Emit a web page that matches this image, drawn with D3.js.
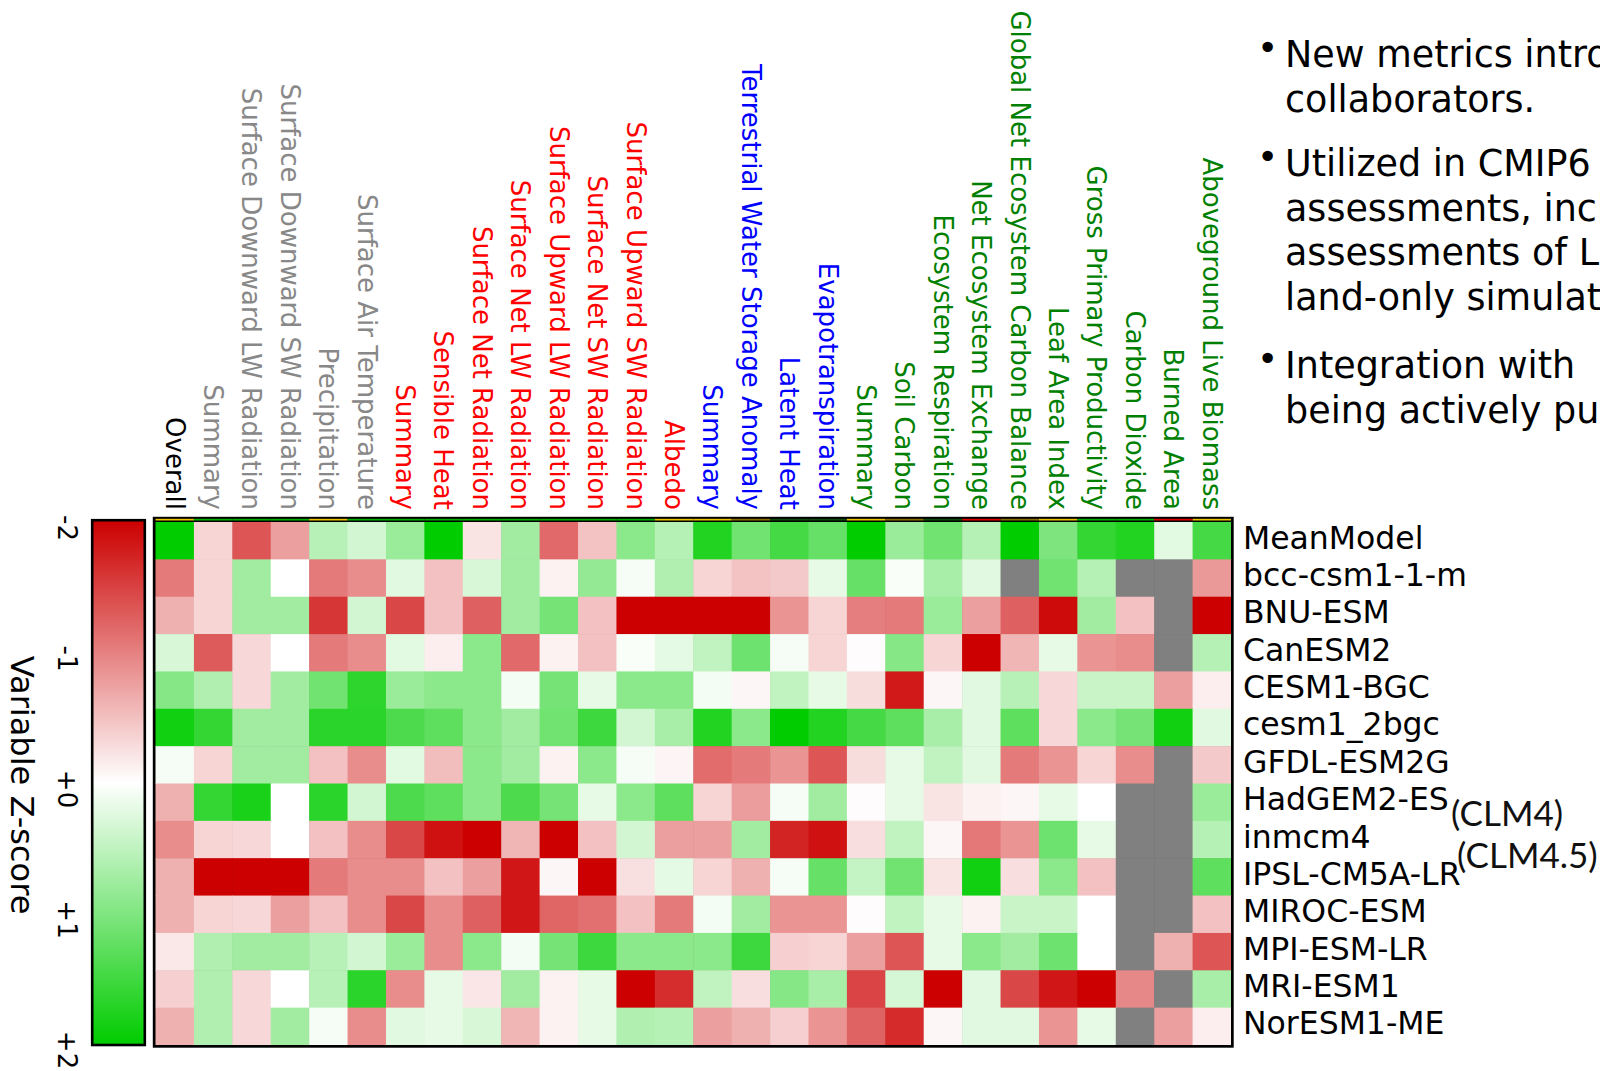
<!DOCTYPE html>
<html><head><meta charset="utf-8">
<script src="https://cdn.jsdelivr.net/npm/d3@7"></script>
<style>
html,body{margin:0;padding:0;background:#fff;overflow:hidden;}
svg{display:block;}
</style></head><body>
<svg id="chart" width="1600" height="1071"></svg>
<script>
// ---------------- data ----------------
const variables = ["Overall","Summary","Surface Downward LW Radiation","Surface Downward SW Radiation","Precipitation","Surface Air Temperature","Summary","Sensible Heat","Surface Net Radiation","Surface Net LW Radiation","Surface Upward LW Radiation","Surface Net SW Radiation","Surface Upward SW Radiation","Albedo","Summary","Terrestrial Water Storage Anomaly","Latent Heat","Evapotranspiration","Summary","Soil Carbon","Ecosystem Respiration","Net Ecosystem Exchange","Global Net Ecosystem Carbon Balance","Leaf Area Index","Gross Primary Productivity","Carbon Dioxide","Burned Area","Aboveground Live Biomass"];
const variableGroups = ["overall","climate","climate","climate","climate","climate","energy","energy","energy","energy","energy","energy","energy","energy","water","water","water","water","carbon","carbon","carbon","carbon","carbon","carbon","carbon","carbon","carbon","carbon"];
const groupColors = {overall:"#000000", climate:"#888888", energy:"#ff0000", water:"#0000ff", carbon:"#008000"};
const headerStrip = ["Y","G","G","G","Y","G","G","G","G","G","G","G","G","Y","Y","O","D","D","Y","O","D","R","O","Y","G","G","R","Y"];
const stripColors = {Y:"#e8c400", G:"#00b000", O:"#8a6c00", D:"#0a4a0a", R:"#e00000"};
const models = ["MeanModel","bcc-csm1-1-m","BNU-ESM","CanESM2","CESM1-BGC","cesm1_2bgc","GFDL-ESM2G","HadGEM2-ES","inmcm4","IPSL-CM5A-LR","MIROC-ESM","MPI-ESM-LR","MRI-ESM1","NorESM1-ME"];
const zScores = [
  [2.0,-0.33,-1.33,-0.75,0.56,0.35,0.79,2.0,-0.22,0.73,-1.18,-0.48,0.91,0.58,1.73,1.11,1.46,1.2,2.0,0.79,1.11,0.58,2.0,1.01,1.6,1.73,0.23,1.46],
  [-1.04,-0.33,0.73,0,-1.04,-0.9,0.24,-0.49,0.31,0.73,-0.1,0.84,0.07,0.61,-0.33,-0.48,-0.42,0.2,1.2,0.05,0.68,0.24,null,1.11,0.58,null,null,-0.81],
  [-0.62,-0.33,0.73,0.73,-1.58,0.35,-1.44,-0.49,-1.25,0.73,1.08,-0.49,-2,-2,-2,-2,-0.84,-0.33,-1.01,-1.04,0.79,-0.75,-1.25,-1.91,0.73,-0.49,null,-2],
  [0.31,-1.29,-0.31,0,-1.04,-0.9,0.23,-0.13,0.91,-1.18,-0.1,-0.49,0.05,0.21,0.49,1.14,0.07,-0.33,-0.02,0.96,-0.33,-2,-0.58,0.2,-0.84,-0.9,null,0.58],
  [0.96,0.61,-0.31,0.73,1.11,1.65,0.79,0.91,0.91,0.09,1.08,0.2,0.91,0.91,0.09,-0.07,0.49,0.2,-0.27,-1.8,-0.07,0.24,0.56,-0.31,0.43,0.43,-0.75,-0.13],
  [1.87,1.6,0.73,0.73,1.67,1.67,1.4,1.26,0.91,0.73,1.11,1.52,0.35,0.68,1.73,0.91,2,1.73,1.46,1.26,0.68,0.24,1.26,-0.31,0.91,1.08,1.87,0.24],
  [0.07,-0.33,0.73,0.73,-0.49,-0.9,0.23,-0.52,0.91,0.73,-0.1,0.91,0.07,-0.08,-1.15,-1.04,-0.84,-1.33,-0.27,0.2,0.49,0.24,-1.04,-0.84,-0.33,-0.9,null,-0.42],
  [-0.62,1.6,1.8,0,1.67,0.35,1.4,1.26,0.91,1.4,1.08,0.2,0.91,1.26,-0.33,-0.78,0.07,0.73,-0.02,0.2,-0.22,-0.1,-0.07,0.2,0,null,null,0.79],
  [-0.9,-0.33,-0.31,0,-0.49,-0.9,-1.44,-1.87,-2,-0.58,-2,-0.49,0.35,-0.75,-0.75,0.73,-1.72,-1.87,-0.26,0.49,-0.07,-1.06,-0.84,1.14,0.2,null,null,0.58],
  [-0.62,-2,-2,-2,-1.04,-0.9,-0.9,-0.49,-0.75,-1.83,-0.07,-2,-0.24,0.21,-0.33,-0.62,0.07,1.2,0.46,1.11,-0.22,1.87,-0.26,0.91,-0.49,null,null,1.26],
  [-0.62,-0.33,-0.31,-0.75,-0.49,-0.9,-1.44,-0.9,-1.25,-1.83,-1.21,-1.12,-0.49,-1.04,0.09,0.73,-0.84,-0.84,-0.02,0.49,0.2,-0.1,0.43,0.43,0,null,null,-0.49],
  [-0.18,0.61,0.73,0.73,0.56,0.35,0.79,-0.9,0.91,0.09,1.08,1.52,0.91,0.91,0.91,1.52,-0.37,-0.33,-0.75,-1.33,0.2,0.91,0.73,1.14,0,null,-0.62,-1.33],
  [-0.37,0.61,-0.31,0,0.56,1.67,-0.9,0.2,-0.2,0.73,-0.1,0.2,-2,-1.65,0.49,-0.26,0.96,0.68,-1.47,0.33,-2,0.24,-1.44,-1.83,-2,-0.93,null,0.68],
  [-0.62,0.61,-0.31,0.73,0.07,-0.9,0.24,0.2,0.31,-0.58,-0.1,0.2,0.61,0.58,-0.75,-0.62,-0.37,-0.84,-1.22,-1.66,-0.07,0.24,0.24,-0.84,0.2,null,-0.75,-0.13]
];
const colorbarTicks = [-2,-1,0,1,2];
const colorbarTickLabels = ["-2","-1","+0","+1","+2"];
const colorbarTitle = "Variable Z-score";
const modelNotes = ["(CLM4)","(CLM4.5)"];
const bullets = [
  ["New metrics introduced by ILAMB","collaborators."],
  ["Utilized in CMIP6 model","assessments, including","assessments of LS3MIP","land-only simulations."],
  ["Integration with\u00a0\u00a0ESMValTool","being actively pursued."]
];

// ---------------- drawing ----------------
const svg = d3.select("#chart");
const FONT = "'DejaVu Sans', Verdana, sans-serif";

const x = d3.scaleBand().domain(d3.range(variables.length)).range([155.5, 1231]);
const y = d3.scaleBand().domain(models).range([522, 1045]);
const color = d3.scaleLinear().domain([-2,0,2]).range(["#cc0000","#ffffff","#00cc00"]).clamp(true);

const [x0,x1] = x.range(), [y0,y1] = y.range();

// frame
svg.append("rect").attr("x", x0-2.7).attr("y", y0-5.2).attr("width", x1-x0+5.4).attr("height", y1-y0+7.9).attr("fill","#000");
// header strip
svg.append("g").selectAll("rect").data(headerStrip).join("rect")
  .attr("x",(d,i)=>x(i)).attr("y",y0-3.2).attr("width",x.bandwidth()).attr("height",1.7)
  .attr("fill",d=>stripColors[d]);
// cells
const cells = [];
zScores.forEach((row,r)=>row.forEach((v,c)=>cells.push({r,c,v})));
svg.append("g").selectAll("rect").data(cells).join("rect")
  .attr("x",d=>x(d.c)).attr("y",d=>y(models[d.r]))
  .attr("width",d=>Math.min(x.bandwidth()+0.6, x1-x(d.c)))
  .attr("height",d=>Math.min(y.bandwidth()+0.6, y1-y(models[d.r])))
  .attr("fill",d=>d.v==null?"#808080":color(d.v));

// column labels (top axis)
const gx = svg.append("g").attr("transform","translate(0,510)")
  .call(d3.axisTop(x).tickSize(0).tickFormat(i=>variables[i]));
gx.select(".domain").remove();
gx.attr("font-family",FONT).attr("font-size",26);
gx.selectAll("text").attr("x",0).attr("y",0).attr("dy","0.35em")
  .attr("transform","rotate(90)").attr("text-anchor","end")
  .attr("fill",i=>groupColors[variableGroups[i]]);

// row labels (right axis)
const gy = svg.append("g").attr("transform","translate(1243,-3)")
  .call(d3.axisRight(y).tickSize(0).tickPadding(0));
gy.select(".domain").remove();
gy.attr("font-family",FONT).attr("font-size",31.5);
gy.selectAll("text").attr("x",0).attr("dy","0.35em").attr("fill","#000");

// model notes
svg.selectAll("text.note").data(modelNotes).join("text").attr("class","note")
  .attr("x",(d,i)=>i===0?1451:1457).attr("y",(d,i)=>i===0?814:856).attr("dy","0.35em")
  .attr("font-family","Lato, 'Liberation Sans', sans-serif").attr("font-size",35).attr("fill","#111")
  .text(d=>d);

// colorbar
const grad = svg.append("defs").append("linearGradient").attr("id","zgrad")
  .attr("x1",0).attr("y1",0).attr("x2",0).attr("y2",1);
d3.range(0,1.0001,0.05).forEach(t=>{
  grad.append("stop").attr("offset",t).attr("stop-color",color(-2+4*t));
});
svg.append("rect").attr("x",92.2).attr("y",520.2).attr("width",52.6).attr("height",524.8)
  .attr("fill","url(#zgrad)").attr("stroke","#000").attr("stroke-width",2.6);

const zl = d3.scaleLinear().domain([-2,2]).range([528,1050]);
svg.append("g").selectAll("text").data(colorbarTicks).join("text")
  .attr("transform",d=>`translate(67,${zl(d)}) rotate(90)`)
  .attr("text-anchor","middle").attr("dy","0.35em")
  .attr("font-family",FONT).attr("font-size",26).attr("fill","#000")
  .text((d,i)=>colorbarTickLabels[i]);
svg.append("text").attr("transform","translate(22,785) rotate(90)")
  .attr("text-anchor","middle").attr("dy","0.35em")
  .attr("font-family",FONT).attr("font-size",32).attr("fill","#000")
  .text(colorbarTitle);

// bullets
const paraBaselines = [67,176,378];
const lineGap = 44.5;
bullets.forEach((lines,p)=>{
  svg.append("text").attr("x",1257).attr("y",paraBaselines[p]-7)
    .attr("font-family",FONT).attr("font-size",36).attr("fill","#000").text("\u2022");
  lines.forEach((ln,k)=>{
    svg.append("text").attr("x",1285).attr("y",paraBaselines[p]+k*lineGap)
      .attr("font-family",FONT).attr("font-size",36.5).attr("fill","#000").text(ln);
  });
});
</script>
</body></html>
